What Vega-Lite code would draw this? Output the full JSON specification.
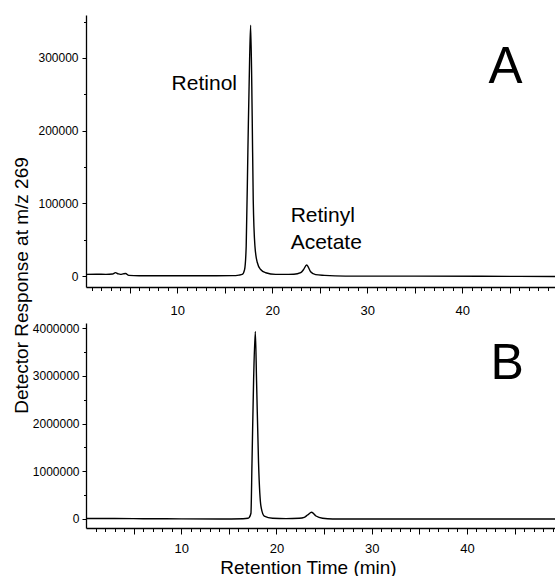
{
  "$schema": "https://vega.github.io/schema/vega-lite/v6.json",
  "padding": {"left": 12, "top": 15, "right": 0, "bottom": 0},
  "background": "white",
  "config": {
    "view": {"stroke": null},
    "font": "Liberation Sans",
    "axis": {
      "domainColor": "black", "domainWidth": 1.3, "tickColor": "black", "tickWidth": 1,
      "labelColor": "black", "titleColor": "black", "grid": false,
      "labelFont": "Liberation Sans", "titleFont": "Liberation Sans",
      "titleFontWeight": "normal", "labelOverlap": false
    },
    "axisX": {"labelFontSize": 13},
    "axisY": {"labelFontSize": 12}
  },
  "datasets": {
    "a": [
      {"t": 0.4, "r": 2400}, {"t": 1.5, "r": 2500}, {"t": 2.5, "r": 2400}, {"t": 3.2, "r": 2800},
      {"t": 3.5, "r": 4700}, {"t": 3.8, "r": 3000}, {"t": 4.04, "r": 2400}, {"t": 4.3, "r": 3000},
      {"t": 4.57, "r": 3500}, {"t": 4.9, "r": 1000}, {"t": 6, "r": 500}, {"t": 10, "r": 500},
      {"t": 14, "r": 500}, {"t": 15.8, "r": 600}, {"t": 16.5, "r": 1400}, {"t": 16.84, "r": 2300},
      {"t": 17.09, "r": 9000}, {"t": 17.26, "r": 41000}, {"t": 17.44, "r": 174000}, {"t": 17.62, "r": 298000},
      {"t": 17.73, "r": 345000}, {"t": 17.89, "r": 220000}, {"t": 18.0, "r": 105000}, {"t": 18.18, "r": 41000},
      {"t": 18.42, "r": 19000}, {"t": 18.78, "r": 9000}, {"t": 19.31, "r": 4600}, {"t": 20.36, "r": 2300},
      {"t": 21.5, "r": 2400}, {"t": 22.28, "r": 2500}, {"t": 23.0, "r": 4700}, {"t": 23.3, "r": 9000},
      {"t": 23.62, "r": 15300}, {"t": 24.04, "r": 6000}, {"t": 24.57, "r": 2000}, {"t": 25.5, "r": 1000},
      {"t": 27.7, "r": 0}, {"t": 35, "r": 0}, {"t": 42, "r": -300}, {"t": 49.76, "r": -500}
    ],
    "b": [
      {"t": 0, "r": 10000}, {"t": 3, "r": 10000}, {"t": 6, "r": 5000}, {"t": 10, "r": 3000},
      {"t": 14, "r": 0}, {"t": 16.5, "r": 5000}, {"t": 17.0, "r": 15000}, {"t": 17.15, "r": 35000},
      {"t": 17.32, "r": 120000}, {"t": 17.43, "r": 1170000}, {"t": 17.6, "r": 2910000}, {"t": 17.78, "r": 3930000},
      {"t": 17.91, "r": 2900000}, {"t": 18.12, "r": 1170000}, {"t": 18.37, "r": 270000}, {"t": 18.72, "r": 60000},
      {"t": 19.59, "r": 15000}, {"t": 21, "r": 8000}, {"t": 22.39, "r": 15000}, {"t": 22.92, "r": 35000},
      {"t": 23.27, "r": 84000}, {"t": 23.69, "r": 140000}, {"t": 24.15, "r": 63000}, {"t": 24.84, "r": 15000},
      {"t": 25.9, "r": 0}, {"t": 35, "r": 0}, {"t": 49.25, "r": 0}
    ],
    "notesA": [
      {"t": 9.41, "r": 256000, "label": "Retinol"},
      {"t": 21.94, "r": 74400, "label": "Retinyl"},
      {"t": 21.94, "r": 37400, "label": "Acetate"}
    ],
    "letterA": [{"t": 44.55, "r": 265200, "label": "A"}],
    "letterB": [{"t": 44.22, "r": 2935000, "label": "B"}]
  },
  "spacing": 36,
  "bounds": "flush",
  "vconcat": [
    {
      "width": 469,
      "height": 272,
      "encoding": {
        "x": {
          "field": "t", "type": "quantitative",
          "scale": {"domain": [0.4, 49.76], "nice": false, "zero": false},
          "axis": {
            "title": null,
            "values": [1,2,3,4,5,6,7,8,9,10,11,12,13,14,15,16,17,18,19,20,21,22,23,24,25,26,27,28,29,30,31,32,33,34,35,36,37,38,39,40,41,42,43,44,45,46,47,48,49],
            "labelExpr": "datum.value % 10 === 0 ? datum.label : ''",
            "tickSize": {"condition": {"test": "datum.value % 5 === 0", "value": 6}, "value": 3.5},
            "labelPadding": 11
          }
        },
        "y": {
          "field": "r", "type": "quantitative",
          "scale": {"domain": [-15000, 359000], "nice": false, "zero": false},
          "axis": {
            "title": "Detector Response at m/z 269",
            "values": [0, 50000, 100000, 150000, 200000, 250000, 300000, 350000],
            "format": "d",
            "labelExpr": "datum.value % 100000 === 0 ? datum.label : ''",
            "tickSize": {"condition": {"test": "datum.value % 100000 === 0", "value": 4}, "value": 2.5},
            "labelPadding": 4,
            "titleX": -65, "titleY": 270, "titleAngle": 270,
            "titleBaseline": "middle", "titleAlign": "center", "titleFontSize": 19
          }
        }
      },
      "layer": [
        {
          "data": {"name": "a"},
          "mark": {"type": "line", "color": "black", "strokeWidth": 1.4, "interpolate": "monotone", "clip": true}
        },
        {
          "data": {"name": "notesA"},
          "mark": {"type": "text", "align": "left", "baseline": "alphabetic", "fontSize": 21, "color": "black"},
          "encoding": {"text": {"field": "label"}}
        },
        {
          "data": {"name": "letterA"},
          "mark": {"type": "text", "align": "center", "baseline": "alphabetic", "fontSize": 51, "color": "black"},
          "encoding": {"text": {"field": "label"}}
        }
      ]
    },
    {
      "width": 469,
      "height": 205,
      "encoding": {
        "x": {
          "field": "t", "type": "quantitative",
          "scale": {"domain": [0, 49.25], "nice": false, "zero": false},
          "axis": {
            "title": "Retention Time (min)",
            "values": [1,2,3,4,5,6,7,8,9,10,11,12,13,14,15,16,17,18,19,20,21,22,23,24,25,26,27,28,29,30,31,32,33,34,35,36,37,38,39,40,41,42,43,44,45,46,47,48,49],
            "labelExpr": "datum.value % 10 === 0 ? datum.label : ''",
            "tickSize": {"condition": {"test": "datum.value % 5 === 0", "value": 6}, "value": 3.5},
            "labelPadding": 8,
            "titleX": 222, "titleY": 45, "titleBaseline": "alphabetic", "titleAlign": "center",
            "titleFontSize": 19
          }
        },
        "y": {
          "field": "r", "type": "quantitative",
          "scale": {"domain": [-189000, 4109000], "nice": false, "zero": false},
          "axis": {
            "title": null,
            "values": [0, 500000, 1000000, 1500000, 2000000, 2500000, 3000000, 3500000, 4000000],
            "format": "d",
            "labelExpr": "datum.value % 1000000 === 0 ? datum.label : ''",
            "tickSize": {"condition": {"test": "datum.value % 1000000 === 0", "value": 4}, "value": 2.5},
            "labelPadding": 3
          }
        }
      },
      "layer": [
        {
          "data": {"name": "b"},
          "mark": {"type": "line", "color": "black", "strokeWidth": 1.4, "interpolate": "monotone", "clip": true}
        },
        {
          "data": {"name": "letterB"},
          "mark": {"type": "text", "align": "center", "baseline": "alphabetic", "fontSize": 50, "color": "black"},
          "encoding": {"text": {"field": "label"}}
        }
      ]
    }
  ]
}
